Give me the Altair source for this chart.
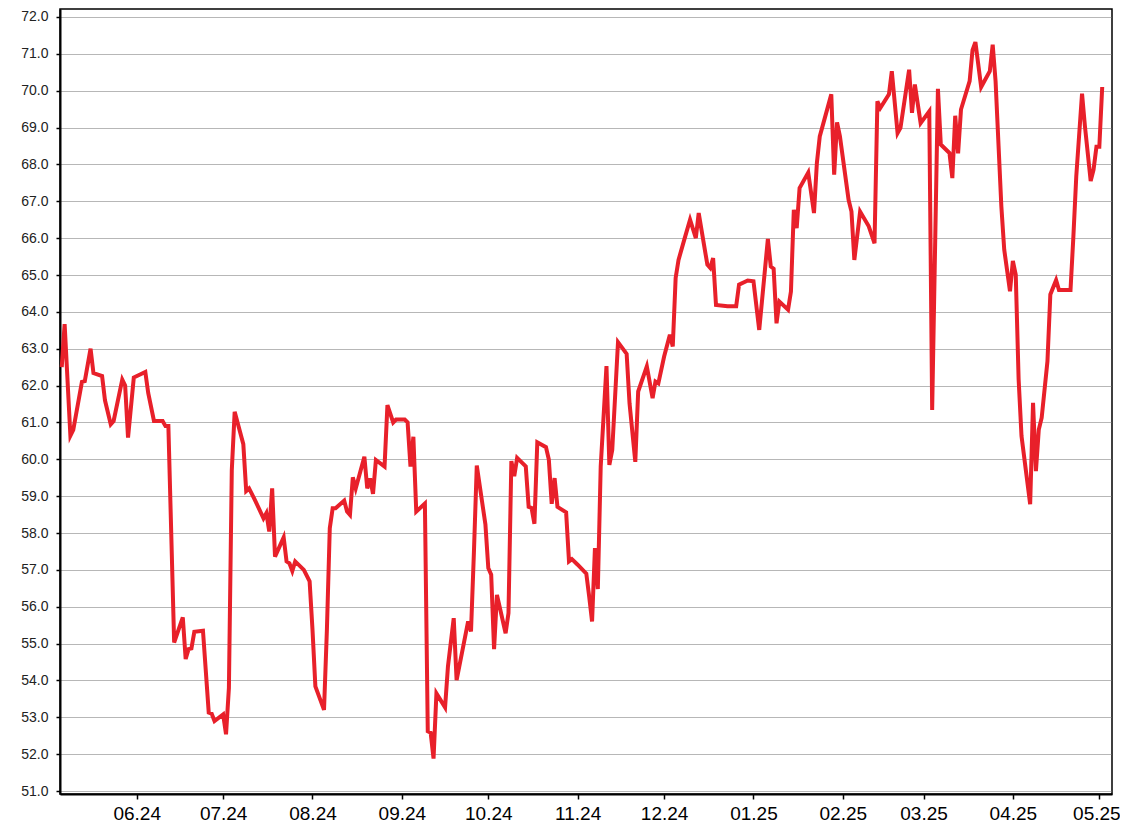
import altair as alt
import pandas as pd

dates = [
    "2024-05-06", "2024-05-07", "2024-05-09", "2024-05-10", "2024-05-13", "2024-05-14",
    "2024-05-16", "2024-05-17", "2024-05-20", "2024-05-21", "2024-05-23", "2024-05-24",
    "2024-05-27", "2024-05-28", "2024-05-29", "2024-05-31", "2024-06-04", "2024-06-05",
    "2024-06-07", "2024-06-10", "2024-06-11", "2024-06-12", "2024-06-14", "2024-06-17",
    "2024-06-18", "2024-06-19", "2024-06-20", "2024-06-21", "2024-06-24", "2024-06-26",
    "2024-06-27", "2024-06-28", "2024-07-01", "2024-07-02", "2024-07-03", "2024-07-04",
    "2024-07-05", "2024-07-08", "2024-07-09", "2024-07-10", "2024-07-12", "2024-07-15",
    "2024-07-16", "2024-07-17", "2024-07-18", "2024-07-19", "2024-07-22", "2024-07-23",
    "2024-07-24", "2024-07-25", "2024-07-26", "2024-07-29", "2024-07-31", "2024-08-01",
    "2024-08-02", "2024-08-05", "2024-08-06", "2024-08-07", "2024-08-08", "2024-08-09",
    "2024-08-12", "2024-08-13", "2024-08-14", "2024-08-15", "2024-08-16", "2024-08-19",
    "2024-08-20", "2024-08-21", "2024-08-22", "2024-08-23", "2024-08-26", "2024-08-27",
    "2024-08-29", "2024-08-30", "2024-09-02", "2024-09-03", "2024-09-04", "2024-09-05",
    "2024-09-06", "2024-09-09", "2024-09-10", "2024-09-11", "2024-09-12", "2024-09-13",
    "2024-09-16", "2024-09-17", "2024-09-19", "2024-09-20", "2024-09-24", "2024-09-25",
    "2024-09-26", "2024-09-27", "2024-09-30", "2024-10-01", "2024-10-02", "2024-10-03",
    "2024-10-04", "2024-10-07", "2024-10-08", "2024-10-09", "2024-10-10", "2024-10-11",
    "2024-10-14", "2024-10-15", "2024-10-16", "2024-10-17", "2024-10-18", "2024-10-21",
    "2024-10-22", "2024-10-23", "2024-10-24", "2024-10-25", "2024-10-28", "2024-10-29",
    "2024-10-30", "2024-11-01", "2024-11-04", "2024-11-05", "2024-11-06", "2024-11-07",
    "2024-11-08", "2024-11-09", "2024-11-11", "2024-11-12", "2024-11-13", "2024-11-15",
    "2024-11-18", "2024-11-19", "2024-11-21", "2024-11-22", "2024-11-25", "2024-11-27",
    "2024-11-28", "2024-11-29", "2024-12-01", "2024-12-03", "2024-12-04", "2024-12-05",
    "2024-12-06", "2024-12-08", "2024-12-10", "2024-12-12", "2024-12-13", "2024-12-16",
    "2024-12-17", "2024-12-18", "2024-12-19", "2024-12-23", "2024-12-26", "2024-12-27",
    "2024-12-30", "2025-01-01", "2025-01-03", "2025-01-06", "2025-01-07", "2025-01-08",
    "2025-01-09", "2025-01-10", "2025-01-13", "2025-01-14", "2025-01-15", "2025-01-16",
    "2025-01-17", "2025-01-20", "2025-01-22", "2025-01-23", "2025-01-24", "2025-01-28",
    "2025-01-29", "2025-01-30", "2025-01-31", "2025-02-03", "2025-02-04", "2025-02-05",
    "2025-02-07", "2025-02-10", "2025-02-12", "2025-02-13", "2025-02-14", "2025-02-17",
    "2025-02-18", "2025-02-20", "2025-02-21", "2025-02-24", "2025-02-25", "2025-02-26",
    "2025-02-28", "2025-03-03", "2025-03-04", "2025-03-06", "2025-03-07", "2025-03-10",
    "2025-03-11", "2025-03-12", "2025-03-13", "2025-03-14", "2025-03-17", "2025-03-18",
    "2025-03-19", "2025-03-21", "2025-03-24", "2025-03-25", "2025-03-26", "2025-03-28",
    "2025-03-29", "2025-03-31", "2025-04-01", "2025-04-02", "2025-04-03", "2025-04-04",
    "2025-04-07", "2025-04-08", "2025-04-09", "2025-04-10", "2025-04-11", "2025-04-13",
    "2025-04-14", "2025-04-16", "2025-04-17", "2025-04-21", "2025-04-22", "2025-04-23",
    "2025-04-25", "2025-04-26", "2025-04-28", "2025-04-29", "2025-04-30", "2025-05-01",
    "2025-05-02",
]

values = [
    62.50, 63.67, 60.64, 60.80, 62.10, 62.12,
    63.00, 62.34, 62.26, 61.60, 60.95, 61.04,
    62.16, 62.00, 60.59, 62.22, 62.37, 61.80,
    61.04, 61.04, 60.90, 60.90, 55.03, 55.71,
    54.58, 54.85, 54.87, 55.32, 55.35, 53.13,
    53.10, 52.90, 53.08, 52.54, 53.80, 59.70,
    61.29, 60.41, 59.14, 59.21, 58.90, 58.40,
    58.54, 58.04, 59.21, 57.36, 57.88, 57.23,
    57.18, 56.97, 57.23, 57.00, 56.69, 55.38,
    53.84, 53.20, 55.38, 58.13, 58.67, 58.67,
    58.88, 58.58, 58.49, 59.51, 59.21, 60.07,
    59.21, 59.48, 59.06, 59.98, 59.80, 61.47,
    61.00, 61.08, 61.08, 61.00, 59.80, 60.61,
    58.58, 58.80, 52.62, 52.58, 51.88, 53.65,
    53.27, 54.38, 55.69, 54.01, 55.60, 55.33,
    57.46, 59.83, 58.23, 57.05, 56.87, 54.85,
    56.32, 55.28, 55.83, 59.95, 59.54, 60.04,
    59.81, 58.71, 58.68, 58.25, 60.46, 60.33,
    59.99, 58.79, 59.49, 58.71, 58.56, 57.23,
    57.29, 57.14, 56.90, 56.28, 55.60, 57.59,
    56.48, 59.81, 62.53, 59.85, 60.25, 63.18,
    62.86, 61.52, 59.93, 61.84, 62.52, 61.66,
    62.11, 62.06, 62.79, 63.38, 63.06, 64.92,
    65.41, 65.96, 66.50, 66.00, 66.68, 65.28,
    65.19, 65.46, 64.19, 64.15, 64.15, 64.74,
    64.85, 64.83, 63.51, 65.98, 65.23, 65.17,
    63.69, 64.28, 64.06, 64.55, 66.77, 66.27,
    67.36, 67.78, 66.68, 68.04, 68.76, 69.90,
    67.72, 69.14, 68.76, 67.04, 66.72, 65.41,
    66.72, 66.32, 65.86, 69.71, 69.53, 69.90,
    70.53, 68.85, 68.99, 70.57, 69.40, 70.17,
    69.12, 69.44, 61.34, 70.05, 68.54, 68.31,
    67.63, 69.32, 68.30, 69.49, 70.26, 71.10,
    71.32, 70.10, 70.53, 71.25, 70.26, 66.87,
    65.69, 64.56, 65.38, 65.01, 62.17, 60.63,
    58.78, 61.53, 59.68, 60.81, 61.13, 62.66,
    64.47, 64.86, 64.59, 64.59, 66.05, 67.68,
    69.92, 69.04, 67.55, 67.86, 68.48, 68.48,
    70.10,
]

y_ticks = [51.0, 52.0, 53.0, 54.0, 55.0, 56.0, 57.0, 58.0, 59.0, 60.0, 61.0,
           62.0, 63.0, 64.0, 65.0, 66.0, 67.0, 68.0, 69.0, 70.0, 71.0, 72.0]
x_tick_months = [(2024, 6), (2024, 7), (2024, 8), (2024, 9), (2024, 10), (2024, 11),
                 (2024, 12), (2025, 1), (2025, 2), (2025, 3), (2025, 4), (2025, 5)]

df = pd.DataFrame({"date": dates, "value": values})

x_values = [alt.DateTime(year=y, month=m, date=1, utc=True) for (y, m) in x_tick_months]
x_domain = [
    alt.DateTime(year=2024, month=5, date=5, hours=9, minutes=30, utc=True),
    alt.DateTime(year=2025, month=5, date=5, hours=9, minutes=30, utc=True),
]

line = alt.Chart(df).mark_line(color="#e8202a", strokeWidth=4).encode(
    x=alt.X(
        "date:T",
        scale=alt.Scale(type="utc", domain=x_domain, nice=False),
        axis=alt.Axis(
            values=x_values,
            labelExpr="utcFormat(datum.value, '%m.%y')",
            grid=False,
            title=None,
            labelFontSize=19,
            labelFont="Liberation Sans",
            labelColor="black",
            labelPadding=5,
            labelFlush=False,
            labelOverlap=False,
            labelOffset={"condition": {"test": "datum.index >= 1", "value": -3}, "value": 0},
            tickSize=5,
            tickColor="black",
            tickWidth=1.5,
            domainColor="black",
            domainWidth=2,
        ),
    ),
    y=alt.Y(
        "value:Q",
        scale=alt.Scale(domain=[50.919, 72.217], nice=False, zero=False),
        axis=alt.Axis(
            values=y_ticks,
            format=".1f",
            title=None,
            grid=True,
            gridColor="#6f6f6f",
            gridDash=[1, 1],
            gridWidth=1,
            labelFontSize=14,
            labelFont="Liberation Sans",
            labelColor="#222222",
            labelPadding=8,
            labelOverlap=False,
            tickSize=4,
            tickColor="black",
            tickWidth=1.5,
            domainColor="black",
            domainWidth=2,
        ),
    ),
)

chart = line.properties(
    width=1052,
    height=785,
    autosize=alt.AutoSizeParams(type="none"),
    padding={"left": 52, "top": 1, "right": 8, "bottom": 40},
).configure_view(stroke="black", strokeWidth=1.5)

chart.save("out.html", embed_options={"renderer": "svg", "actions": False})
